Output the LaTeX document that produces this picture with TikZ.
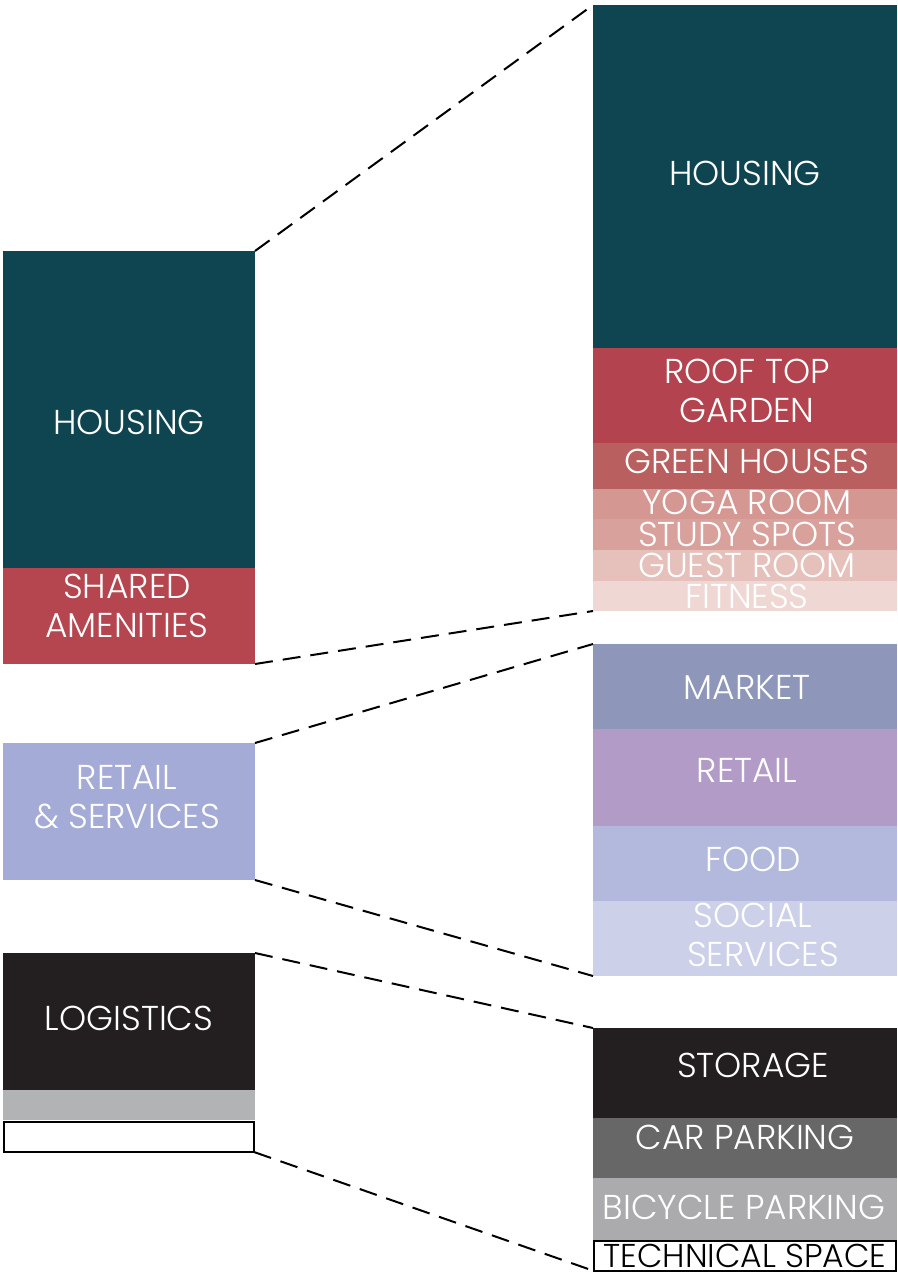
\documentclass[tikz,border=0pt]{standalone}
\usepackage{fontspec}
\setmainfont{Poppins Light}
\usepackage{tikz}
\definecolor{housingcol}{HTML}{0F4550}
\definecolor{sharedcol}{HTML}{B5454F}
\definecolor{roofcol}{HTML}{B3444F}
\definecolor{greencol}{HTML}{B95F60}
\definecolor{yogacol}{HTML}{D49792}
\definecolor{studycol}{HTML}{D9A19C}
\definecolor{guestcol}{HTML}{E6C0BB}
\definecolor{fitcol}{HTML}{EFD8D4}
\definecolor{retsercol}{HTML}{A4ABD7}
\definecolor{marketcol}{HTML}{8E96BA}
\definecolor{retailcol}{HTML}{B29BC7}
\definecolor{foodcol}{HTML}{B2B9DD}
\definecolor{socialcol}{HTML}{CCD0E9}
\definecolor{logcol}{HTML}{231F20}
\definecolor{carcol}{HTML}{676767}
\definecolor{bikecol}{HTML}{ABABAD}
\definecolor{greycol}{HTML}{B2B3B5}

\begin{document}
\begin{tikzpicture}[x=1pt,y=-1pt,inner sep=0pt,outer sep=0pt,
  blk/.style={draw=none,rectangle,anchor=north west},
  lbl/.style={text=white,align=center,font=\fontsize{34.5}{39}\selectfont},
  link/.style={line width=2pt,dash pattern=on 18pt off 10pt}]
  \useasboundingbox (0,0) rectangle (897,1274);
  % left column
  \node[blk,fill=housingcol,minimum width=252,minimum height=317] (lhousing) at (3,251) {};
  \node[blk,fill=sharedcol,minimum width=252,minimum height=96] (lshared) at (3,568) {};
  \node[blk,fill=retsercol,minimum width=252,minimum height=137] (lretail) at (3,743) {};
  \node[blk,fill=logcol,minimum width=252,minimum height=137] (llogistics) at (3,953) {};
  \node[blk,fill=greycol,minimum width=252,minimum height=30] (lgrey) at (3,1090) {};
  \node[blk,draw=black,line width=2pt,minimum width=250,minimum height=30] (lwhite) at (4,1122) {};
  % right column
  \node[blk,fill=housingcol,minimum width=304,minimum height=343] (rhousing) at (593,5) {};
  \node[blk,fill=roofcol,minimum width=304,minimum height=95] (rroof) at (593,348) {};
  \node[blk,fill=greencol,minimum width=304,minimum height=46] (rgreen) at (593,443) {};
  \node[blk,fill=yogacol,minimum width=304,minimum height=30] (ryoga) at (593,489) {};
  \node[blk,fill=studycol,minimum width=304,minimum height=31] (rstudy) at (593,519) {};
  \node[blk,fill=guestcol,minimum width=304,minimum height=31] (rguest) at (593,550) {};
  \node[blk,fill=fitcol,minimum width=304,minimum height=30] (rfitness) at (593,581) {};
  \node[blk,fill=marketcol,minimum width=304,minimum height=85] (rmarket) at (593,644) {};
  \node[blk,fill=retailcol,minimum width=304,minimum height=97] (rretail) at (593,729) {};
  \node[blk,fill=foodcol,minimum width=304,minimum height=75] (rfood) at (593,826) {};
  \node[blk,fill=socialcol,minimum width=304,minimum height=75] (rsocial) at (593,901) {};
  \node[blk,fill=logcol,minimum width=304,minimum height=90] (rstorage) at (593,1028) {};
  \node[blk,fill=carcol,minimum width=304,minimum height=60] (rcar) at (593,1118) {};
  \node[blk,fill=bikecol,minimum width=304,minimum height=62] (rbike) at (593,1178) {};
  \node[blk,draw=black,line width=2pt,minimum width=302,minimum height=30] (rtech) at (594,1241) {};
  % labels
  \node[lbl] (tlhousing) at (129,422) {HOUSING};
  \node[lbl] (tlshared) at (127,606) {SHARED\\AMENITIES};
  \node[lbl] (tlretail) at (127,797) {RETAIL\\\& SERVICES};
  \node[lbl] (tllogistics) at (129,1018) {LOGISTICS};
  \node[lbl] (trhousing) at (745,173) {HOUSING};
  \node[lbl] (trroof) at (747,391) {ROOF TOP\\GARDEN};
  \node[lbl] (trgreen) at (747,461) {GREEN HOUSES};
  \node[lbl] (tryoga) at (747,502) {YOGA ROOM};
  \node[lbl] (trstudy) at (747,534) {STUDY SPOTS};
  \node[lbl] (trguest) at (747,565) {GUEST ROOM};
  \node[lbl] (trfitness) at (747,596) {FITNESS};
  \node[lbl] (trmarket) at (747,687) {MARKET};
  \node[lbl] (trretail) at (747,770) {RETAIL};
  \node[lbl] (trfood) at (753,859) {FOOD};
  \node[lbl] (trsocial) at (753,915) {SOCIAL};
  \node[lbl] (trservices) at (763,954) {SERVICES};
  \node[lbl] (trstorage) at (753,1065) {STORAGE};
  \node[lbl] (trcar) at (745,1137) {CAR PARKING};
  \node[lbl] (trbike) at (744,1207) {BICYCLE PARKING};
  \node[lbl,text=black,font=\fontsize{33}{39}\selectfont] (trtech) at (745,1256) {TECHNICAL SPACE};
  % dashed links
  \draw[link] (lhousing.north east) -- (rhousing.north west);
  \draw[link] (lshared.south east) -- (rfitness.south west);
  \draw[link] (lretail.north east) -- (rmarket.north west);
  \draw[link] (lretail.south east) -- (rsocial.south west);
  \draw[link] (llogistics.north east) -- (rstorage.north west);
  \draw[link] (lwhite.south east) -- (rtech.south west);
\end{tikzpicture}
\end{document}
